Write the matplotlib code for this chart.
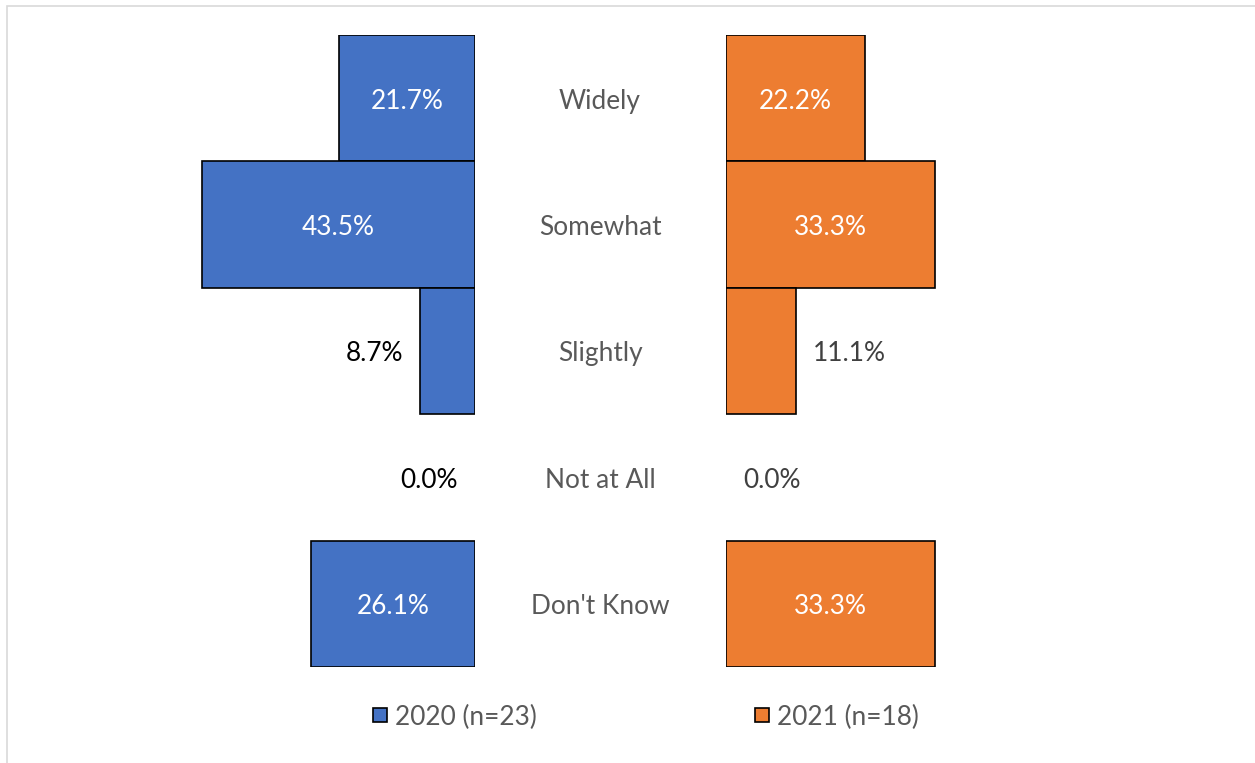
import matplotlib
matplotlib.use("Agg")
import matplotlib.pyplot as plt
from matplotlib.patches import Rectangle

plt.rcParams['font.family'] = ['Lato', 'DejaVu Sans']

categories = ["Widely", "Somewhat", "Slightly", "Not at All", "Don't Know"]
pct_2020 = [21.7, 43.5, 8.7, 0.0, 26.1]
pct_2021 = [22.2, 33.3, 11.1, 0.0, 33.3]
series_names = ["2020 (n=23)", "2021 (n=18)"]

BLUE = "#4472C4"
ORANGE = "#ED7D31"
GREY = "#595959"
FS = 18.9

W, H = 1255, 763
fig = plt.figure(figsize=(W / 100, H / 100), dpi=100)

# light frame around the chart area
fig.patches.append(Rectangle((7 / W, -0.1), 1.2, (H - 6) / H + 0.1,
                             transform=fig.transFigure, fill=False,
                             edgecolor="#D9D9D9", linewidth=1.2))

bottom = (H - 667) / H
height = 632 / H
xmax = 50
ax_l = fig.add_axes([161 / W, bottom, 314 / W, height])
ax_r = fig.add_axes([726 / W, bottom, 314 / W, height])

ypos = list(range(len(categories)))
# zero-length bars get no outline
lw_2020 = [1.2 if v > 0 else 0 for v in pct_2020]
lw_2021 = [1.2 if v > 0 else 0 for v in pct_2021]
ax_l.barh(ypos, pct_2020, height=1.0, color=BLUE, edgecolor="black", linewidth=lw_2020)
ax_r.barh(ypos, pct_2021, height=1.0, color=ORANGE, edgecolor="black", linewidth=lw_2021)

for ax in (ax_l, ax_r):
    ax.set_ylim(len(categories) - 0.5, -0.5)
    ax.set_xlim(0, xmax)
    ax.axis("off")
ax_l.invert_xaxis()

px = xmax / 314  # data units per pixel
dy = 3 / 126.4   # nudge text down a few pixels


def label(ax, vals, outside_color, side):
    for y, v in zip(ypos, vals):
        txt = f"{v:.1f}%"
        if v >= 15:
            ax.text(v / 2, y + dy, txt, ha="center", va="center", color="white", fontsize=FS)
        else:
            ha = "right" if side == "left" else "left"
            ax.text(v + 17 * px, y + dy, txt, ha=ha, va="center", color=outside_color, fontsize=FS)


label(ax_l, pct_2020, "black", "left")
label(ax_r, pct_2021, "#404040", "right")

# category names between the two sides
for y, c in zip(ypos, categories):
    ax_l.text(-(600 - 475) * px, y + dy, c, ha="center", va="center", color=GREY, fontsize=FS)

# legend
for x0, name, col in [(373, series_names[0], BLUE), (755, series_names[1], ORANGE)]:
    fig.patches.append(Rectangle((x0 / W, (H - 722) / H), 14 / W, 14 / H,
                                 transform=fig.transFigure, facecolor=col,
                                 edgecolor="black", linewidth=1.2))
    fig.text((x0 + 22) / W, (H - 717) / H, name, ha="left", va="center",
             color=GREY, fontsize=FS)

fig.savefig("out.png", dpi=100)
